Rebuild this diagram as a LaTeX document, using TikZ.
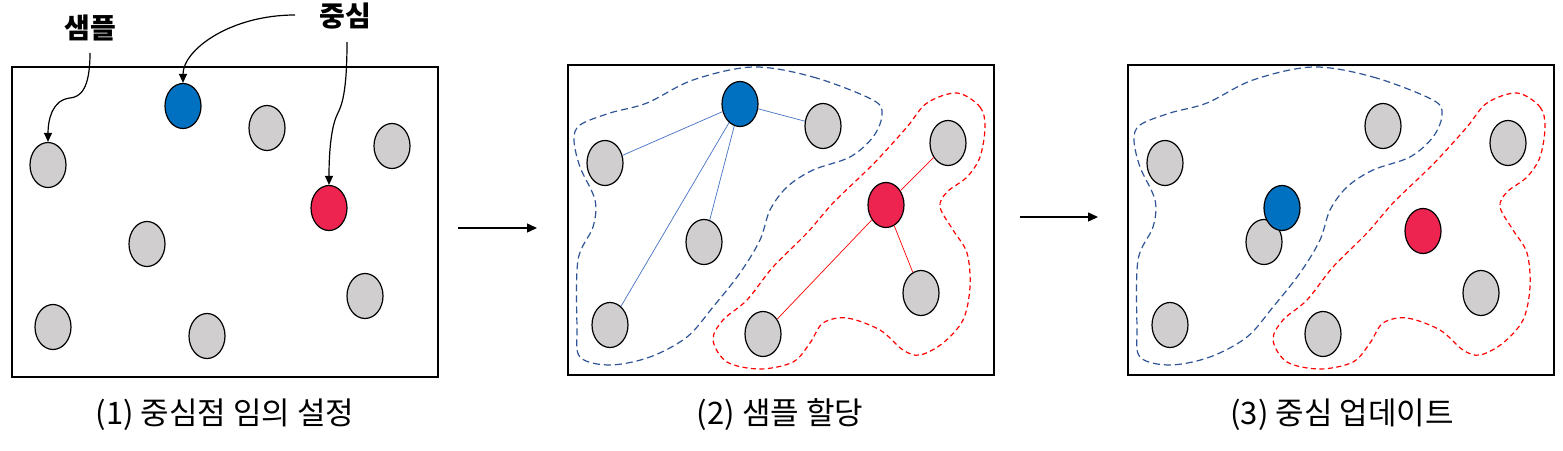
\documentclass[tikz,border=0pt]{standalone}
\usepackage{fontspec}
\setmainfont{Noto Sans CJK KR}
\usetikzlibrary{arrows.meta,shapes.geometric}
\definecolor{gfill}{HTML}{D0CECE}
\definecolor{cblue}{HTML}{0070C0}
\definecolor{cred}{HTML}{EE2450}
\definecolor{lblue}{HTML}{4472C4}
\definecolor{dblue}{HTML}{2F5597}
\definecolor{lred}{HTML}{FF0000}
\begin{document}
\begin{tikzpicture}[x=1pt,y=-1pt,
  pdot/.style={ellipse,draw=black,line width=1.2pt,minimum width=36pt,minimum height=45pt,inner sep=0pt},
  gdot/.style={pdot,fill=gfill},
  bdot/.style={pdot,fill=cblue},
  rdot/.style={pdot,fill=cred},
  panelbox/.style={draw=black,line width=1.6pt,minimum width=426pt,minimum height=310pt,anchor=north west,inner sep=0pt},
  bblob/.style={draw=dblue,line width=1.2pt,dash pattern=on 7pt off 4pt},
  rblob/.style={draw=lred,line width=1.2pt,dash pattern=on 5pt off 3.5pt},
  blink/.style={draw=lblue,line width=0.7pt},
  rlink/.style={draw=lred,line width=0.7pt},
  callout/.style={draw=black,line width=1.2pt,-{Triangle[length=9pt,width=8pt]}},
  flowarrow/.style={draw=black,line width=1.4pt,-{Triangle[length=10pt,width=9pt]}},
  labtxt/.style={font=\fontsize{28}{30}\selectfont\bfseries,inner sep=0pt},
  captxt/.style={font=\fontsize{31}{34}\selectfont,inner sep=0pt}]
\useasboundingbox[fill=white] (0,0) rectangle (1563,450);

% ---------- panel 1 ----------
\begin{scope}[shift={(11,66)}]
  \node[panelbox] (p1) at (0,0) {};
  \node[gdot] (a1) at (256,62) {};
  \node[gdot] (a2) at (381,80) {};
  \node[gdot] (a3) at (37,99) {};
  \node[gdot] (a4) at (136,178) {};
  \node[gdot] (a5) at (354,230) {};
  \node[gdot] (a6) at (42,261) {};
  \node[gdot] (a7) at (196,270) {};
  \node[bdot] (ab) at (172,40) {};
  \node[rdot] (ar) at (318,142) {};
\end{scope}
\node[labtxt] (ls) at (90,28) {샘플};
\node[labtxt] (lc) at (345,16) {중심};
\coordinate (s1) at (90,53);
\coordinate (s2) at (295,15);
\coordinate (s3) at (347,42);
\draw[callout] (s1) .. controls (90,90) and (80,97) .. (70,98)
   .. controls (52,100) and (48,120) .. (a3.north);
\draw[callout] (s2) .. controls (230,15) and (183,50) .. (ab.north);
\draw[callout] (s3) .. controls (347,100) and (340,108) .. (337,115)
   .. controls (330,130) and (329,160) .. (ar.north);
\node[captxt] (c1) at (225,415) {(1) 중심점 임의 설정};

% ---------- arrows between panels ----------
\coordinate (f1s) at (458,228); \coordinate (f1e) at (537,228);
\coordinate (f2s) at (1020,217); \coordinate (f2e) at (1098,217);
\draw[flowarrow] (f1s) -- (f1e);
\draw[flowarrow] (f2s) -- (f2e);

% ---------- panels 2 and 3 ----------
\foreach \ox/\p in {567/b,1127/c}{
\begin{scope}[shift={(\ox,64)}]
  \draw[bblob] plot[smooth cycle,tension=0.55] coordinates {
    (186,3) (246,13) (306,36) (315,51) (306,73) (283,93) (246,106) (220,123)
    (203,146) (193,176) (173,209) (146,243) (120,273) (83,293) (43,301) (13,293)
    (10,263) (11,196) (26,163) (28,136) (13,103) (7,76) (13,61) (43,49) (80,39) (126,16)};
  \draw[rblob] plot[smooth cycle,tension=0.55] coordinates {
    (390,29) (413,43) (418,63) (413,93) (400,113) (380,128) (373,143) (386,166)
    (400,189) (403,223) (396,256) (376,279) (353,291) (336,286) (313,266) (280,254)
    (256,259) (243,279) (226,298) (193,305) (160,298) (146,276) (156,256) (180,236)
    (206,203) (240,169) (266,139) (293,113) (313,93) (340,63) (360,39)};
  \node[panelbox] (\p box) at (0,0) {};
  \node[gdot] (\p1) at (256,62) {};
  \node[gdot] (\p2) at (381,79) {};
  \node[gdot] (\p3) at (38,99) {};
  \node[gdot] (\p4) at (137,178) {};
  \node[gdot] (\p5) at (354,229) {};
  \node[gdot] (\p6) at (43,261) {};
  \node[gdot] (\p7) at (196,270) {};
\end{scope}
}
% panel 2 centres and links
\begin{scope}[shift={(567,64)}]
  \node[bdot] (bb) at (173,40) {};
  \node[rdot] (br) at (319,141) {};
\end{scope}
\foreach \t in {b1,b3,b4,b6} \draw[blink] (bb) -- (\t);
\foreach \t in {b2,b5,b7} \draw[rlink] (br) -- (\t);
\node[captxt] (c2) at (780,415) {(2) 샘플 할당};

% panel 3 centres
\begin{scope}[shift={(1127,64)}]
  \node[bdot] (cb) at (155,144) {};
  \node[rdot] (cr) at (296,167) {};
\end{scope}
\node[captxt] (c3) at (1342,415) {(3) 중심 업데이트};
\end{tikzpicture}
\end{document}
